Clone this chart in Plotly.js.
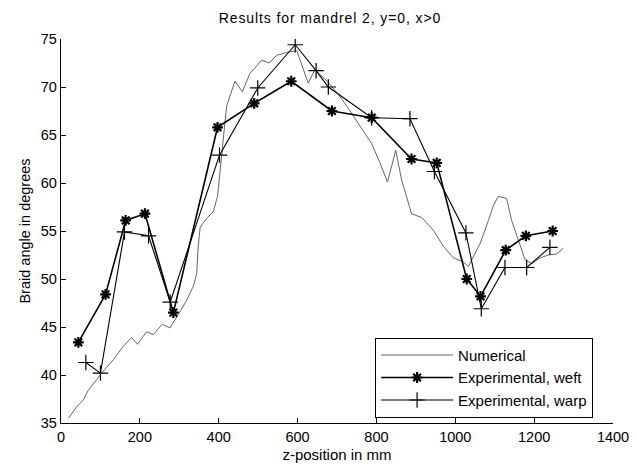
<!DOCTYPE html>
<html>
<head>
<meta charset="utf-8">
<script src="https://cdn.plot.ly/plotly-3.0.1.min.js"></script>
<style>
html,body{margin:0;padding:0;background:#fff;}
#chart{width:637px;height:465px;}
#chart .gtitle{letter-spacing:0.9px;}
</style>
</head>
<body>
<div id="chart"></div>
<script>
// Numerical
const numX = [19, 40, 57, 69, 90, 103, 133, 158, 179, 194, 217, 234, 257, 276, 299, 319, 336, 344, 348, 353, 369, 386, 397, 403, 411, 420, 441, 460, 479, 509, 528, 547, 572, 598, 627, 644, 675, 700, 725, 758, 788, 810, 828, 849, 864, 889, 915, 944, 970, 995, 1020, 1033, 1042, 1063, 1084, 1097, 1109, 1130, 1143, 1160, 1177, 1194, 1215, 1236, 1257, 1274];
const numY = [35.5, 36.7, 37.4, 38.4, 39.5, 40.2, 41.6, 43.0, 43.9, 43.2, 44.5, 44.2, 45.3, 44.9, 46.4, 47.8, 49.3, 50.5, 53.4, 55.4, 56.3, 57.0, 58.6, 61.0, 64.5, 68.0, 70.6, 69.5, 71.4, 72.8, 72.5, 73.3, 73.6, 73.8, 70.4, 71.8, 70.6, 69.4, 68.0, 65.9, 64.1, 62.0, 60.1, 63.4, 60.3, 56.8, 56.4, 55.1, 53.4, 52.2, 51.8, 51.3, 52.0, 53.7, 56.1, 57.7, 58.6, 58.4, 56.1, 54.1, 52.0, 51.6, 52.2, 52.5, 52.6, 53.2];
// Experimental, weft
const weftX = [44, 113, 164, 213, 285, 397, 490, 584, 687, 788, 889, 953, 1029, 1064, 1128, 1179, 1247];
const weftY = [43.4, 48.4, 56.1, 56.8, 46.5, 65.8, 68.3, 70.6, 67.5, 66.8, 62.5, 62.1, 50.0, 48.2, 53.0, 54.5, 55.0];
// Experimental, warp
const warpX = [63, 100, 161, 222, 277, 402, 499, 594, 647, 678, 788, 885, 947, 1027, 1066, 1126, 1181, 1240];
const warpY = [41.3, 40.2, 54.9, 54.5, 47.6, 62.9, 69.9, 74.4, 71.7, 70.0, 66.8, 66.7, 61.2, 54.8, 46.9, 51.2, 51.2, 53.3];

const xTicks = [0, 200, 400, 600, 800, 1000, 1200, 1400];
const yTicks = [35, 40, 45, 50, 55, 60, 65, 70, 75];

const traces = [
  {x: numX, y: numY, name: 'Numerical', mode: 'lines', type: 'scatter',
   line: {color: '#555555', width: 0.9}},
  {x: weftX, y: weftY, name: 'Experimental, weft', mode: 'lines+markers', type: 'scatter',
   line: {color: '#000000', width: 1.6},
   marker: {symbol: 'asterisk-open', size: 9, color: '#000000', line: {color: '#000000', width: 2.2}}},
  {x: warpX, y: warpY, name: 'Experimental, warp', mode: 'lines+markers', type: 'scatter',
   line: {color: '#000000', width: 1.1},
   marker: {symbol: 'cross-thin-open', size: 11, color: '#000000', line: {color: '#000000', width: 1.2}}}
];

const fam = 'Liberation Sans, Arial, sans-serif';

const layout = {
  width: 637, height: 465,
  margin: {l: 61, r: 24, t: 39, b: 42},
  paper_bgcolor: '#ffffff', plot_bgcolor: '#ffffff',
  font: {family: fam, color: '#000000', size: 14},
  showlegend: true,
  title: {text: 'Results for mandrel 2, y=0, x>0', font: {family: fam, size: 14, color: '#000'},
          x: 0.518, xanchor: 'center', y: 0.962, yanchor: 'middle'},
  xaxis: {
    range: [0, 1400], tickvals: xTicks, ticktext: xTicks.map(String),
    ticks: 'inside', ticklen: 5, tickcolor: '#000', tickwidth: 1,
    showline: true, linecolor: '#000', linewidth: 1.2, mirror: false,
    showgrid: false, zeroline: false,
    tickfont: {family: fam, size: 14.5, color: '#000'},
    title: {text: 'z-position in mm', font: {family: fam, size: 15, color: '#000'}, standoff: 6}
  },
  yaxis: {
    range: [35, 75], tickvals: yTicks, ticktext: yTicks.map(String),
    ticks: 'inside', ticklen: 5, tickcolor: '#000', tickwidth: 1,
    showline: true, linecolor: '#000', linewidth: 1.2, mirror: false,
    showgrid: false, zeroline: false,
    tickfont: {family: fam, size: 14.5, color: '#000'},
    title: {text: 'Braid angle in degrees', font: {family: fam, size: 14.5, color: '#000'}, standoff: 6}
  },
  legend: {
    x: 0.569, y: 0.222, xanchor: 'left', yanchor: 'top',
    bgcolor: '#ffffff', bordercolor: '#000', borderwidth: 1,
    font: {family: fam, size: 15, color: '#000'},
    itemwidth: 72, tracegroupgap: 0
  }
};

Plotly.newPlot('chart', traces, layout, {displayModeBar: false, staticPlot: true});
</script>
</body>
</html>
